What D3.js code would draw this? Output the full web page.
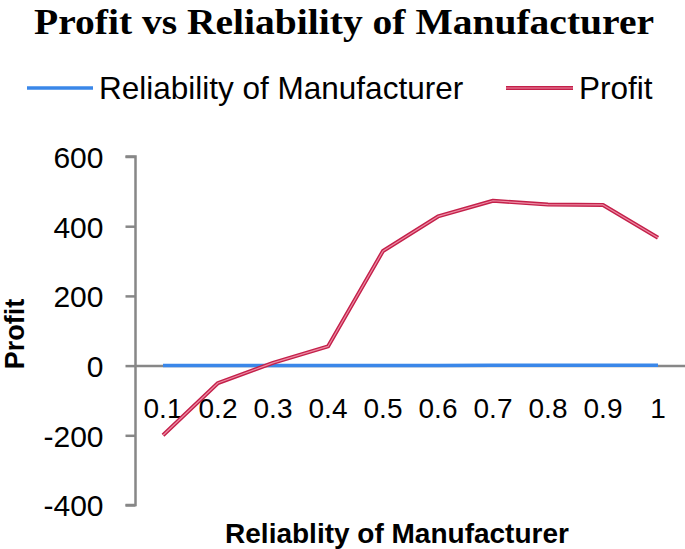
<!DOCTYPE html>
<html>
<head>
<meta charset="utf-8">
<script src="https://cdn.jsdelivr.net/npm/d3@7"></script>
<style>
  html, body { margin: 0; padding: 0; background: #fff; }
  svg { display: block; }
</style>
</head>
<body>
<svg id="chart" width="685" height="549"></svg>
<script>
// ---- data ----
const categories = ["0.1", "0.2", "0.3", "0.4", "0.5", "0.6", "0.7", "0.8", "0.9", "1"];
const reliabilityValues = [0.1, 0.2, 0.3, 0.4, 0.5, 0.6, 0.7, 0.8, 0.9, 1];
const profitValues = [-200, -50, 8, 55, 329, 428, 473, 462, 461, 367];
const yTicks = [-400, -200, 0, 200, 400, 600];
const titleText = "Profit vs Reliability of Manufacturer";
const xTitle = "Reliablity of Manufacturer";
const yTitle = "Profit";
const legendLabels = ["Reliability of Manufacturer", "Profit"];

// ---- layout ----
const svg = d3.select("#chart");
const sans = "'Liberation Sans', Arial, sans-serif";
const serif = "'Liberation Serif', 'Times New Roman', serif";
const axisColor = "#878787";
const blue = "#3a87e9";
const red = "#c4204a";
const redInner = "#ec8ca4";

const x = d3.scaleBand().domain(categories).range([135.5, 685.5]).padding(0);
const y = d3.scaleLinear().domain([-400, 600]).range([505, 156.5]);
const cx = d => x(d) + x.bandwidth() / 2;

// title
svg.append("text")
  .attr("x", 344).attr("y", 34)
  .attr("text-anchor", "middle")
  .attr("textLength", 620).attr("lengthAdjust", "spacingAndGlyphs")
  .style("font-family", serif).style("font-weight", "bold")
  .style("font-size", "36px").style("fill", "#000")
  .text(titleText);

// legend
const legend = svg.append("g");
legend.append("line").attr("x1", 27).attr("x2", 93).attr("y1", 88).attr("y2", 88)
  .attr("stroke", blue).attr("stroke-width", 3.5);
legend.append("text").attr("x", 99).attr("y", 99)
  .style("font-family", sans).style("font-size", "31.5px").style("fill", "#000")
  .text(legendLabels[0]);
legend.append("line").attr("x1", 506).attr("x2", 573).attr("y1", 88).attr("y2", 88)
  .attr("stroke", red).attr("stroke-width", 4);
legend.append("line").attr("x1", 506).attr("x2", 573).attr("y1", 88).attr("y2", 88)
  .attr("stroke", redInner).attr("stroke-width", 1.2);
legend.append("text").attr("x", 579).attr("y", 99)
  .style("font-family", sans).style("font-size", "31.5px").style("fill", "#000")
  .text(legendLabels[1]);

// y axis
const yAxis = d3.axisLeft(y).tickValues(yTicks).tickSize(10).tickPadding(22)
  .tickFormat(d => String(d));
const yg = svg.append("g").attr("transform", "translate(135.5,0)").call(yAxis);
yg.select(".domain").attr("stroke", axisColor).attr("stroke-width", 2.5)
  .attr("d", `M-10,${y(600)}H0V${y(-400)}H-10`);
yg.selectAll(".tick line").attr("stroke", axisColor).attr("stroke-width", 2.5);
yg.selectAll(".tick text")
  .style("font-family", sans).style("font-size", "30px").style("fill", "#000")
  .attr("dy", "0.36em");

// x axis at zero
const xAxis = d3.axisBottom(x).tickSize(0).tickPadding(33);
const xg = svg.append("g").attr("transform", `translate(0,${y(0)})`).call(xAxis);
xg.select(".domain").attr("stroke", axisColor).attr("stroke-width", 2.5);
xg.selectAll(".tick text")
  .style("font-family", sans).style("font-size", "28px").style("fill", "#000");

// axis titles
svg.append("text")
  .attr("transform", "translate(24,334) rotate(-90)")
  .attr("text-anchor", "middle")
  .style("font-family", sans).style("font-weight", "bold")
  .style("font-size", "27px").style("fill", "#000")
  .text(yTitle);
svg.append("text")
  .attr("x", 397).attr("y", 543)
  .attr("text-anchor", "middle")
  .style("font-family", sans).style("font-weight", "bold")
  .style("font-size", "28px").style("fill", "#000")
  .text(xTitle);

// series
const line = d3.line().x((d, i) => cx(categories[i])).y(d => y(d));
svg.append("path").datum(reliabilityValues).attr("d", line)
  .attr("fill", "none").attr("stroke", blue).attr("stroke-width", 3.5);
svg.append("path").datum(profitValues).attr("d", line)
  .attr("fill", "none").attr("stroke", red).attr("stroke-width", 4)
  .attr("stroke-linejoin", "round");
svg.append("path").datum(profitValues).attr("d", line)
  .attr("fill", "none").attr("stroke", redInner).attr("stroke-width", 1.2)
  .attr("stroke-linejoin", "round");
</script>
</body>
</html>
